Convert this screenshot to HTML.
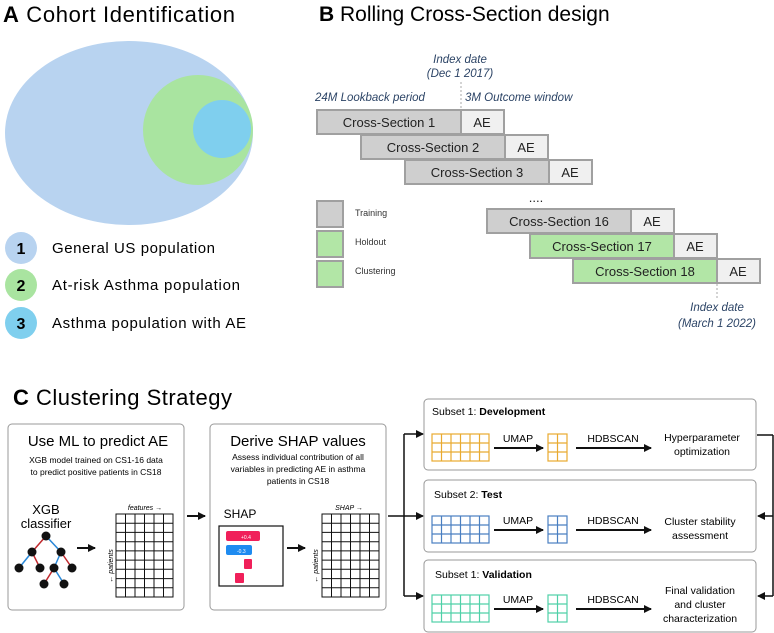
<!DOCTYPE html>
<html><head><meta charset="utf-8"><style>
html,body{margin:0;padding:0;background:#fff}
svg{display:block;font-family:"Liberation Sans",sans-serif}
</style></head><body>
<svg width="774" height="633" viewBox="0 0 774 633" xmlns="http://www.w3.org/2000/svg">
<defs>
<marker id="ah" markerWidth="8" markerHeight="8" refX="7" refY="4" orient="auto" markerUnits="userSpaceOnUse"><path d="M0,0 L8,4 L0,8 Z" fill="#111"/></marker>
</defs>
<!-- Panel A -->
<text x="3" y="22" font-size="22" textLength="232"><tspan font-weight="bold">A</tspan>  Cohort Identification</text>
<ellipse cx="129" cy="133" rx="124" ry="92" fill="#b8d3f0"/>
<circle cx="198" cy="130" r="55" fill="#a9e4a0"/>
<circle cx="222" cy="129" r="29" fill="#7fcfee"/>
<circle cx="21" cy="248" r="16" fill="#b8d3f0"/><text x="21" y="254" font-size="16" font-weight="bold" text-anchor="middle">1</text>
<circle cx="21" cy="285" r="16" fill="#a9e4a0"/><text x="21" y="291" font-size="16" font-weight="bold" text-anchor="middle">2</text>
<circle cx="21" cy="323" r="16" fill="#7fcfee"/><text x="21" y="329" font-size="16" font-weight="bold" text-anchor="middle">3</text>
<text x="52" y="253" font-size="15" textLength="163">General US population</text>
<text x="52" y="290" font-size="15" textLength="188">At-risk Asthma population</text>
<text x="52" y="328" font-size="15" textLength="194">Asthma population with AE</text>
<!-- Panel B -->
<text x="319" y="21" font-size="21"><tspan font-weight="bold">B</tspan>  Rolling Cross-Section design</text>
<g font-style="italic" fill="#2c4466" font-size="11.5" text-anchor="middle">
<text x="460" y="63">Index date</text><text x="460" y="77">(Dec 1 2017)</text>
<text x="717" y="311">Index date</text><text x="717" y="327">(March 1 2022)</text>
<text x="315" y="101" text-anchor="start">24M Lookback period</text>
<text x="465" y="101" text-anchor="start">3M Outcome window</text>
</g>
<line x1="461" y1="82" x2="461" y2="110" stroke="#aaa" stroke-dasharray="2,2"/>
<line x1="717" y1="284" x2="717" y2="300" stroke="#aaa" stroke-dasharray="2,2"/>
<g stroke="#a0a0a0" stroke-width="2" font-size="13" text-anchor="middle">
<rect x="317" y="110" width="144" height="24" fill="#cfcfcf"/><rect x="461" y="110" width="43" height="24" fill="#f0f0f0"/>
<rect x="361" y="135" width="144" height="24" fill="#cfcfcf"/><rect x="505" y="135" width="43" height="24" fill="#f0f0f0"/>
<rect x="405" y="160" width="144" height="24" fill="#cfcfcf"/><rect x="549" y="160" width="43" height="24" fill="#f0f0f0"/>
<rect x="487" y="209" width="144" height="24" fill="#cfcfcf"/><rect x="631" y="209" width="43" height="24" fill="#f0f0f0"/>
<rect x="530" y="234" width="144" height="24" fill="#b2e6a6"/><rect x="674" y="234" width="43" height="24" fill="#f0f0f0"/>
<rect x="573" y="259" width="144" height="24" fill="#b2e6a6"/><rect x="717" y="259" width="43" height="24" fill="#f0f0f0"/>
<rect x="317" y="201" width="26" height="26" fill="#cfcfcf"/>
<rect x="317" y="231" width="26" height="26" fill="#b2e6a6"/>
<rect x="317" y="261" width="26" height="26" fill="#b2e6a6"/>
</g>
<g font-size="13" text-anchor="middle" fill="#222">
<text x="389" y="127">Cross-Section 1</text><text x="482" y="127">AE</text>
<text x="433" y="152">Cross-Section 2</text><text x="526" y="152">AE</text>
<text x="477" y="177">Cross-Section 3</text><text x="570" y="177">AE</text>
<text x="559" y="226">Cross-Section 16</text><text x="652" y="226">AE</text>
<text x="602" y="251">Cross-Section 17</text><text x="695" y="251">AE</text>
<text x="645" y="276">Cross-Section 18</text><text x="738" y="276">AE</text>
<text x="536" y="202">....</text>
</g>
<g font-size="9" fill="#333"><text x="355" y="216">Training</text><text x="355" y="245">Holdout</text><text x="355" y="274">Clustering</text></g>
<!-- Panel C -->
<text x="13" y="405" font-size="22" textLength="219"><tspan font-weight="bold">C</tspan>  Clustering Strategy</text>
<rect x="8" y="424" width="176" height="186" rx="4" fill="#fff" stroke="#999"/>
<rect x="210" y="424" width="176" height="186" rx="4" fill="#fff" stroke="#999"/>
<text x="98" y="446" font-size="15" text-anchor="middle">Use ML to predict AE</text>
<text x="96" y="463" font-size="8.5" text-anchor="middle">XGB model trained on CS1-16 data</text>
<text x="96" y="475" font-size="8.5" text-anchor="middle">to predict positive patients in CS18</text>
<text x="298" y="446" font-size="15" text-anchor="middle">Derive SHAP values</text>
<text x="298" y="460" font-size="8.5" text-anchor="middle">Assess individual contribution of all</text>
<text x="298" y="472" font-size="8.5" text-anchor="middle">variables in predicting AE in asthma</text>
<text x="298" y="484" font-size="8.5" text-anchor="middle">patients in CS18</text>
<text x="46" y="514" font-size="13" text-anchor="middle">XGB</text>
<text x="46" y="528" font-size="13" text-anchor="middle">classifier</text>
<!-- tree -->
<g stroke-width="1.5">
<line x1="46" y1="536" x2="32" y2="552" stroke="#c0282d"/><line x1="46" y1="536" x2="61" y2="552" stroke="#2a88d8"/>
<line x1="32" y1="552" x2="19" y2="568" stroke="#2a88d8"/><line x1="32" y1="552" x2="40" y2="568" stroke="#c0282d"/>
<line x1="61" y1="552" x2="54" y2="568" stroke="#2a88d8"/><line x1="61" y1="552" x2="72" y2="568" stroke="#c0282d"/>
<line x1="54" y1="568" x2="44" y2="584" stroke="#c0282d"/><line x1="54" y1="568" x2="64" y2="584" stroke="#2a88d8"/>
</g>
<g fill="#111"><circle cx="46" cy="536" r="4.5"/><circle cx="32" cy="552" r="4.5"/><circle cx="61" cy="552" r="4.5"/><circle cx="19" cy="568" r="4.5"/><circle cx="40" cy="568" r="4.5"/><circle cx="54" cy="568" r="4.5"/><circle cx="72" cy="568" r="4.5"/><circle cx="44" cy="584" r="4.5"/><circle cx="64" cy="584" r="4.5"/></g>
<line x1="77" y1="548" x2="95" y2="548" stroke="#111" stroke-width="2" marker-end="url(#ah)"/>
<line x1="187" y1="516" x2="205" y2="516" stroke="#111" stroke-width="2" marker-end="url(#ah)"/>
<line x1="287" y1="548" x2="305" y2="548" stroke="#111" stroke-width="2" marker-end="url(#ah)"/>
<text x="145" y="510" font-size="7" font-style="italic" text-anchor="middle">features →</text>
<text x="349" y="510" font-size="7" font-style="italic" text-anchor="middle">SHAP →</text>
<text transform="translate(113,566) rotate(-90)" font-size="7" font-style="italic" text-anchor="middle">← patients</text>
<text transform="translate(318,566) rotate(-90)" font-size="7" font-style="italic" text-anchor="middle">← patients</text>
<!-- black grids -->
<g stroke="#111" stroke-width="1" fill="none">
<rect x="116" y="514" width="57" height="83"/>
<path d="M125.5,514V597M135,514V597M144.5,514V597M154,514V597M163.5,514V597M116,523.2H173M116,532.4H173M116,541.7H173M116,550.9H173M116,560.1H173M116,569.3H173M116,578.6H173M116,587.8H173"/>
<rect x="322" y="514" width="57" height="83"/>
<path d="M331.5,514V597M341,514V597M350.5,514V597M360,514V597M369.5,514V597M322,523.2H379M322,532.4H379M322,541.7H379M322,550.9H379M322,560.1H379M322,569.3H379M322,578.6H379M322,587.8H379"/>
</g>
<text x="240" y="518" font-size="12" text-anchor="middle">SHAP</text>
<rect x="219" y="526" width="64" height="60" fill="#fff" stroke="#111" stroke-width="1.2"/>
<rect x="226" y="531" width="34" height="10" rx="2" fill="#f0205a"/><text x="241" y="539" font-size="5" fill="#fff">+0.4</text>
<rect x="226" y="545" width="26" height="10" rx="2" fill="#1e8bf0"/><text x="237" y="553" font-size="5" fill="#fff">-0.3</text>
<rect x="244" y="559" width="8" height="10" rx="1" fill="#f0205a"/>
<rect x="235" y="573" width="9" height="10" rx="1" fill="#f0205a"/>
<!-- connectors -->
<g stroke="#111" stroke-width="1.5" fill="none">
<line x1="388" y1="516" x2="404" y2="516"/>
<line x1="404" y1="434" x2="404" y2="596"/>
<line x1="757" y1="435" x2="773" y2="435"/>
<line x1="773" y1="435" x2="773" y2="596"/>
</g>
<g stroke="#111" stroke-width="1.5">
<line x1="404" y1="434" x2="423" y2="434" marker-end="url(#ah)"/>
<line x1="404" y1="516" x2="423" y2="516" marker-end="url(#ah)"/>
<line x1="404" y1="596" x2="423" y2="596" marker-end="url(#ah)"/>
<line x1="773" y1="516" x2="758" y2="516" marker-end="url(#ah)"/>
<line x1="773" y1="596" x2="758" y2="596" marker-end="url(#ah)"/>
</g>
<!-- right boxes -->
<rect x="424" y="399" width="332" height="71" rx="4" fill="#fff" stroke="#999"/>
<rect x="424" y="480" width="332" height="72" rx="4" fill="#fff" stroke="#999"/>
<rect x="424" y="560" width="332" height="72" rx="4" fill="#fff" stroke="#999"/>
<g font-size="10.5">
<text x="432" y="415">Subset 1: <tspan font-weight="bold">Development</tspan></text>
<text x="434" y="498">Subset 2: <tspan font-weight="bold">Test</tspan></text>
<text x="435" y="578">Subset 1: <tspan font-weight="bold">Validation</tspan></text>
</g>
<g fill="none" stroke-width="1.2">
<g stroke="#e8aa30">
<rect x="432" y="434" width="57" height="27"/><path d="M441.5,434V461M451,434V461M460.5,434V461M470,434V461M479.5,434V461M432,443H489M432,452H489"/>
<rect x="548" y="434" width="19" height="27"/><path d="M557.5,434V461M548,443H567M548,452H567"/>
</g>
<g stroke="#4a7fc1">
<rect x="432" y="516" width="57" height="27"/><path d="M441.5,516V543M451,516V543M460.5,516V543M470,516V543M479.5,516V543M432,525H489M432,534H489"/>
<rect x="548" y="516" width="19" height="27"/><path d="M557.5,516V543M548,525H567M548,534H567"/>
</g>
<g stroke="#4fd0a8">
<rect x="432" y="595" width="57" height="27"/><path d="M441.5,595V622M451,595V622M460.5,595V622M470,595V622M479.5,595V622M432,604H489M432,613H489"/>
<rect x="548" y="595" width="19" height="27"/><path d="M557.5,595V622M548,604H567M548,613H567"/>
</g>
</g>
<g stroke="#111" stroke-width="2">
<line x1="494" y1="448" x2="543" y2="448" marker-end="url(#ah)"/><line x1="576" y1="448" x2="651" y2="448" marker-end="url(#ah)"/>
<line x1="494" y1="530" x2="543" y2="530" marker-end="url(#ah)"/><line x1="576" y1="530" x2="651" y2="530" marker-end="url(#ah)"/>
<line x1="494" y1="609" x2="543" y2="609" marker-end="url(#ah)"/><line x1="576" y1="609" x2="651" y2="609" marker-end="url(#ah)"/>
</g>
<g font-size="10.5" text-anchor="middle">
<text x="518" y="442">UMAP</text><text x="613" y="442">HDBSCAN</text>
<text x="518" y="524">UMAP</text><text x="613" y="524">HDBSCAN</text>
<text x="518" y="603">UMAP</text><text x="613" y="603">HDBSCAN</text>
<text x="702" y="441">Hyperparameter</text><text x="702" y="455">optimization</text>
<text x="700" y="525">Cluster stability</text><text x="700" y="539">assessment</text>
<text x="700" y="594">Final validation</text><text x="700" y="608">and cluster</text><text x="700" y="622">characterization</text>
</g>
</svg>
</body></html>
